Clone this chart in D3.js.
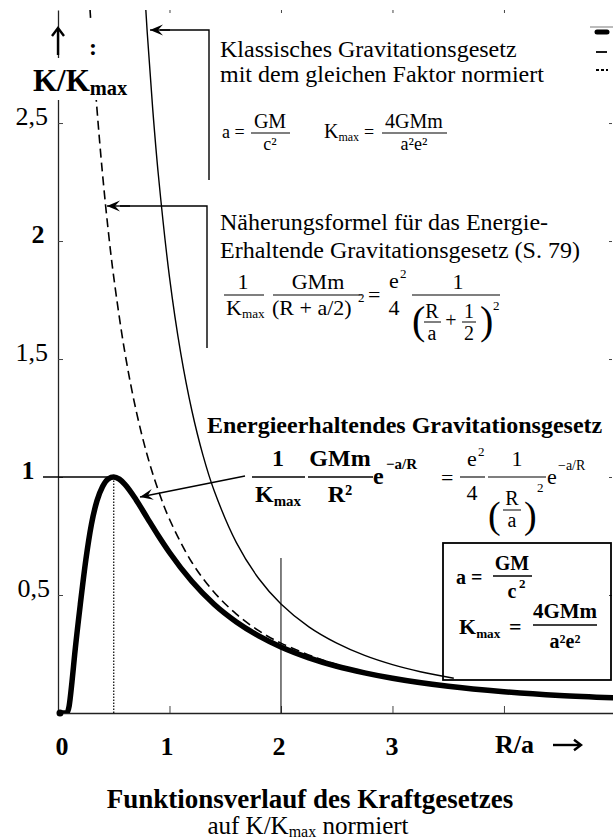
<!DOCTYPE html>
<html>
<head>
<meta charset="utf-8">
<script src="https://cdn.jsdelivr.net/npm/d3@7"></script>
<style>
  body { margin: 0; background: #fff; }
  svg { display: block; }
  text { font-family: "Liberation Serif", "Times New Roman", serif; fill: #000; }
</style>
</head>
<body>
<svg id="chart" width="613" height="839"></svg>
<script>
// ---- data: normalised force K/Kmax against R/a ----
// energy-conserving law
const energyRatio = [0, 0.05, 0.08, 0.1, 0.125, 0.15, 0.2, 0.25, 0.3, 0.35, 0.4, 0.45, 0.5, 0.55, 0.6, 0.7, 0.8, 0.9, 1.0, 1.2, 1.4, 1.6, 1.8, 2.0, 2.25, 2.5, 2.75, 3.0, 3.5, 4.0, 4.5, 5.0];
const energyForce = [0, 0, 0, 0.03, 0.13, 0.25, 0.46, 0.65, 0.8, 0.9, 0.96, 0.992, 1.0, 0.991, 0.969, 0.904, 0.827, 0.751, 0.68, 0.558, 0.461, 0.386, 0.327, 0.28, 0.234, 0.198, 0.17, 0.147, 0.113, 0.09, 0.074, 0.064];
// approximation formula (dashed)
const approxRatio = [0.25, 0.3, 0.35, 0.4, 0.45, 0.5, 0.6, 0.7, 0.8, 0.9, 1.0, 1.2, 1.4, 1.6, 1.8, 2.0, 2.5, 3.0, 3.5, 4.0, 4.5, 5.0];
const approxForce = [3.28, 2.886, 2.557, 2.281, 2.047, 1.847, 1.527, 1.283, 1.093, 0.943, 0.821, 0.639, 0.512, 0.419, 0.349, 0.296, 0.205, 0.151, 0.115, 0.091, 0.074, 0.061];
// classical law with the same normalisation
const classicRatio = [0.75, 0.8, 0.85, 0.9, 1.0, 1.1, 1.2, 1.3, 1.4, 1.6, 1.8, 2.0, 2.25, 2.5, 2.75, 3.0, 3.25, 3.55];
const classicForce = [3.28, 2.886, 2.557, 2.281, 1.847, 1.527, 1.283, 1.093, 0.943, 0.722, 0.57, 0.462, 0.365, 0.296, 0.244, 0.205, 0.175, 0.147];

const yTickValues = [0.5, 1, 1.5, 2, 2.5];
const yTickLabels = ["0,5", "1", "1,5", "2", "2,5"];
const yTickBold   = [false, true, false, true, false];
const xTickValues = [0, 1, 2, 3];
const xTickLabels = ["0", "1", "2", "3"];
const xMinorTicks = [1, 2, 3, 4];

const svg = d3.select("#chart");
const W = 613, H = 839;
const pLeft = 58, pRight = 613, pTop = 10, pBottom = 713;

const x = d3.scaleLinear().domain([0, 4.978]).range([pLeft, pRight]);
const y = d3.scaleLinear().domain([0, 2.979]).range([pBottom, pTop]);

svg.append("rect").attr("width", W).attr("height", H).attr("fill", "#fff");

svg.append("defs").append("clipPath").attr("id", "plot")
  .append("rect").attr("x", pLeft).attr("y", pTop).attr("width", pRight - pLeft).attr("height", pBottom - pTop);

// ---- axes ----
const axisStyle = g => {
  g.selectAll("path").attr("stroke", "#222").attr("stroke-width", 1.3);
  g.selectAll("line").attr("stroke", "#444").attr("stroke-width", 1);
};
svg.append("g").attr("transform", `translate(0,${pBottom})`)
  .call(d3.axisBottom(x).tickValues(xMinorTicks).tickSize(-7).tickSizeOuter(0).tickFormat(""))
  .call(axisStyle);
svg.append("g").attr("transform", `translate(${pLeft},0)`)
  .call(d3.axisLeft(y).tickValues(yTickValues).tickSize(-5).tickSizeOuter(0).tickFormat(""))
  .call(axisStyle);
svg.append("g").attr("transform", `translate(0,${pTop})`)
  .call(d3.axisTop(x).tickValues(xMinorTicks).tickSize(-3).tickFormat(""))
  .call(axisStyle).call(g => g.select(".domain").remove());
svg.append("g").attr("transform", `translate(${pRight - 1},0)`)
  .call(d3.axisRight(y).tickValues(yTickValues).tickSize(-3).tickFormat(""))
  .call(axisStyle).call(g => g.select(".domain").remove());

// ---- guide lines ----
// dotted line under the maximum at R/a = 0.5
svg.append("line").attr("x1", x(0.5)).attr("x2", x(0.5)).attr("y1", y(0)).attr("y2", y(1))
  .attr("stroke", "#000").attr("stroke-width", 1.2).attr("stroke-dasharray", "1.5,1.5");
// leader from label "1" to the maximum
svg.append("line").attr("x1", 43).attr("x2", x(0.5)).attr("y1", y(1)).attr("y2", y(1))
  .attr("stroke", "#000").attr("stroke-width", 1.3);
// thin vertical at R/a = 2
svg.append("line").attr("x1", x(2)).attr("x2", x(2)).attr("y1", 558).attr("y2", y(0))
  .attr("stroke", "#000").attr("stroke-width", 1);

// ---- curves ----
const plot = svg.append("g").attr("clip-path", "url(#plot)");
const lineGen = curve => d3.line().x(d => x(d[0])).y(d => y(d[1])).curve(curve);

plot.append("path")
  .datum(d3.zip(classicRatio, classicForce))
  .attr("d", lineGen(d3.curveCatmullRom))
  .attr("fill", "none").attr("stroke", "#000").attr("stroke-width", 1.4);

plot.append("path")
  .datum(d3.zip(approxRatio, approxForce))
  .attr("d", lineGen(d3.curveCatmullRom))
  .attr("fill", "none").attr("stroke", "#000").attr("stroke-width", 1.6).attr("stroke-dasharray", "9,5");

plot.append("path")
  .datum(d3.zip(energyRatio, energyForce))
  .attr("d", lineGen(d3.curveMonotoneX))
  .attr("fill", "none").attr("stroke", "#000").attr("stroke-width", 5.5)
  .attr("stroke-linecap", "round").attr("stroke-linejoin", "round");
svg.append("circle").attr("cx", x(0) + 2).attr("cy", y(0)).attr("r", 3.5).attr("fill", "#000");

// ---- helpers ----
function t(px, py, str, size, opts = {}) {
  const el = svg.append("text").attr("x", px).attr("y", py)
    .attr("font-size", size)
    .attr("font-weight", opts.bold ? "bold" : "normal")
    .attr("text-anchor", opts.anchor || "start");
  if (opts.sub) {
    el.append("tspan").text(str);
    el.append("tspan").attr("font-size", size * opts.subScale).attr("dy", opts.subDy).text(opts.sub);
  } else {
    el.text(str);
  }
  return el;
}
function bar(x1, x2, yy, w = 1.1) {
  svg.append("line").attr("x1", x1).attr("x2", x2).attr("y1", yy).attr("y2", yy)
    .attr("stroke", "#000").attr("stroke-width", w);
}
function arrow(x1, y1, x2, y2) {
  svg.append("line").attr("x1", x1).attr("y1", y1).attr("x2", x2).attr("y2", y2)
    .attr("stroke", "#000").attr("stroke-width", 1.4);
  const a = Math.atan2(y2 - y1, x2 - x1);
  const L = 13, Wd = 5.5, n = 8;
  const px = (d, s) => [x2 - d * Math.cos(a) - s * Math.sin(a), y2 - d * Math.sin(a) + s * Math.cos(a)];
  const p = [[x2, y2], px(L, Wd), px(n, 0), px(L, -Wd)];
  svg.append("path").attr("d", "M" + p.map(q => q.join(",")).join("L") + "Z").attr("fill", "#000");
}
// bold text-style arrow (shaft plus open head)
function textArrow(x1, y1, x2, y2, head) {
  const a = Math.atan2(y2 - y1, x2 - x1);
  svg.append("line").attr("x1", x1).attr("y1", y1).attr("x2", x2 - 1.5 * Math.cos(a)).attr("y2", y2 - 1.5 * Math.sin(a))
    .attr("stroke", "#000").attr("stroke-width", 2.4);
  const px = (d, s) => [x2 - d * Math.cos(a) - s * Math.sin(a), y2 - d * Math.sin(a) + s * Math.cos(a)];
  svg.append("path").attr("d", "M" + [px(head, head * 0.75), [x2, y2], px(head, -head * 0.75)].map(q => q.join(",")).join("L"))
    .attr("fill", "none").attr("stroke", "#000").attr("stroke-width", 2.4).attr("stroke-linejoin", "miter");
}

// ---- y-axis title over a white patch ----
svg.append("rect").attr("x", 62).attr("y", 19).attr("width", 72).attr("height", 40).attr("fill", "#fff");
svg.append("rect").attr("x", 26).attr("y", 58).attr("width", 110).attr("height", 42).attr("fill", "#fff");
textArrow(58, 55, 58, 28, 8);
t(93, 55, ":", 24, { bold: true, anchor: "middle" });
t(33, 91, "K/K", 31, { bold: true, sub: "max", subScale: 0.66, subDy: 4 });

// ---- tick labels ----
const yLabelX = { "0,5": [50, "end"], "1": [28, "middle"], "1,5": [48, "end"], "2": [38, "middle"], "2,5": [48, "end"] };
yTickValues.forEach((v, i) => {
  const [lx, anc] = yLabelX[yTickLabels[i]];
  t(lx, y(v) + 2, yTickLabels[i], 26, { bold: yTickBold[i], anchor: anc });
});
const xLabelX = [62, 167, 279, 392];
xTickValues.forEach((v, i) => t(xLabelX[i], 755, xTickLabels[i], 26, { bold: true, anchor: "middle" }));
t(495, 753, "R/a", 26, { bold: true });
textArrow(553, 745, 581, 745, 7);

// ---- title ----
t(310, 808, "Funktionsverlauf des Kraftgesetzes", 27, { bold: true, anchor: "middle" });
const sub = svg.append("text").attr("x", 308).attr("y", 834).attr("font-size", 25).attr("text-anchor", "middle");
sub.append("tspan").text("auf K/K");
sub.append("tspan").attr("font-size", 16).attr("dy", 3).text("max");
sub.append("tspan").attr("dy", -3).text(" normiert");

// ---- annotation: classical law ----
svg.append("polyline").attr("points", "209,180 209,30 160,30").attr("fill", "none").attr("stroke", "#000").attr("stroke-width", 1.4);
arrow(170, 30, 150, 30);
t(220, 57, "Klassisches Gravitationsgesetz", 24);
t(220, 82, "mit dem gleichen Faktor normiert", 24);
t(222, 138, "a =", 18);
t(270, 128, "GM", 20, { anchor: "middle" }); bar(251, 290, 133);
t(270, 150, "c²", 18, { anchor: "middle" });
t(324, 138, "K", 20, { sub: "max", subScale: 0.6, subDy: 3 });
t(364, 138, "=", 18);
t(414, 128, "4GMm", 20, { anchor: "middle" }); bar(382, 447, 133);
t(414, 150, "a²e²", 18, { anchor: "middle" });

// ---- annotation: approximation formula ----
svg.append("polyline").attr("points", "207,348 207,206 120,206").attr("fill", "none").attr("stroke", "#000").attr("stroke-width", 1.4);
arrow(130, 206, 107, 206);
t(220, 230, "Näherungsformel für das Energie-", 24);
t(220, 258, "Erhaltende Gravitationsgesetz (S. 79)", 24);
t(243, 289, "1", 22, { anchor: "middle" }); bar(224, 264, 295);
t(226, 315, "K", 22, { sub: "max", subScale: 0.6, subDy: 3 });
t(318, 289, "GMm", 22, { anchor: "middle" }); bar(273, 362, 295);
t(272, 315, "(R + a/2)", 22);
t(358, 302, "2", 13);
t(368, 302, "=", 22);
t(394, 288, "e", 22, { anchor: "middle" }); t(400, 278, "2", 13);
t(394, 315, "4", 22, { anchor: "middle" });
t(458, 289, "1", 22, { anchor: "middle" }); bar(412, 500, 295);
t(412, 334, "(", 40);
t(432, 318, "R", 20, { anchor: "middle" }); bar(424, 441, 322, 1);
t(432, 340, "a", 20, { anchor: "middle" });
t(451, 327, "+", 20, { anchor: "middle" });
t(469, 318, "1", 20, { anchor: "middle" }); bar(462, 476, 322, 1);
t(469, 340, "2", 20, { anchor: "middle" });
t(480, 334, ")", 40);
t(493, 310, "2", 13);

// ---- annotation: energy-conserving law ----
arrow(245, 476, 140, 497);
t(207, 433, "Energieerhaltendes Gravitationsgesetz", 24, { bold: true });
t(278, 466, "1", 24, { bold: true, anchor: "middle" }); bar(252, 305, 477, 1.4);
t(255, 502, "K", 24, { bold: true, sub: "max", subScale: 0.62, subDy: 4 });
t(340, 466, "GMm", 24, { bold: true, anchor: "middle" }); bar(308, 373, 477, 1.4);
t(340, 502, "R²", 24, { bold: true, anchor: "middle" });
t(373, 484, "e", 24, { bold: true });
t(386, 469, "−a/R", 15, { bold: true });
t(441, 485, "=", 22);
t(472, 466, "e", 22, { anchor: "middle" }); t(478, 456, "2", 13);
t(472, 500, "4", 22, { anchor: "middle" }); bar(460, 485, 477);
t(517, 466, "1", 22, { anchor: "middle" }); bar(488, 546, 477);
t(488, 528, "(", 38);
t(512, 505, "R", 20, { anchor: "middle" }); bar(503, 521, 510, 1);
t(512, 527, "a", 20, { anchor: "middle" });
t(524, 528, ")", 38);
t(537, 492, "2", 13);
t(547, 484, "e", 22);
t(558, 470, "−a/R", 14);

// ---- definition box ----
svg.append("rect").attr("x", 443).attr("y", 543).attr("width", 168).attr("height", 137)
  .attr("fill", "none").attr("stroke", "#000").attr("stroke-width", 1.8);
t(456, 584, "a =", 20, { bold: true });
t(512, 570, "GM", 20, { bold: true, anchor: "middle" }); bar(493, 532, 576, 1.4);
t(512, 598, "c", 20, { bold: true, anchor: "middle" }); t(519, 588, "2", 13, { bold: true });
t(459, 634, "K", 22, { bold: true, sub: "max", subScale: 0.6, subDy: 4 });
t(509, 634, "=", 22, { bold: true });
t(565, 618, "4GMm", 21, { bold: true, anchor: "middle" }); bar(533, 597, 625, 1.4);
t(565, 648, "a²e²", 20, { bold: true, anchor: "middle" });

// ---- legend fragments at the right edge ----
svg.append("line").attr("x1", 590).attr("x2", 613).attr("y1", 27).attr("y2", 27).attr("stroke", "#555").attr("stroke-width", 0.8);
svg.append("line").attr("x1", 597).attr("x2", 607).attr("y1", 32).attr("y2", 32).attr("stroke", "#000").attr("stroke-width", 5).attr("stroke-linecap", "round");
svg.append("line").attr("x1", 596).attr("x2", 607).attr("y1", 52).attr("y2", 52).attr("stroke", "#000").attr("stroke-width", 1.8);
svg.append("line").attr("x1", 596).attr("x2", 608).attr("y1", 70).attr("y2", 70).attr("stroke", "#000").attr("stroke-width", 1.8).attr("stroke-dasharray", "3,2");
</script>
</body>
</html>
